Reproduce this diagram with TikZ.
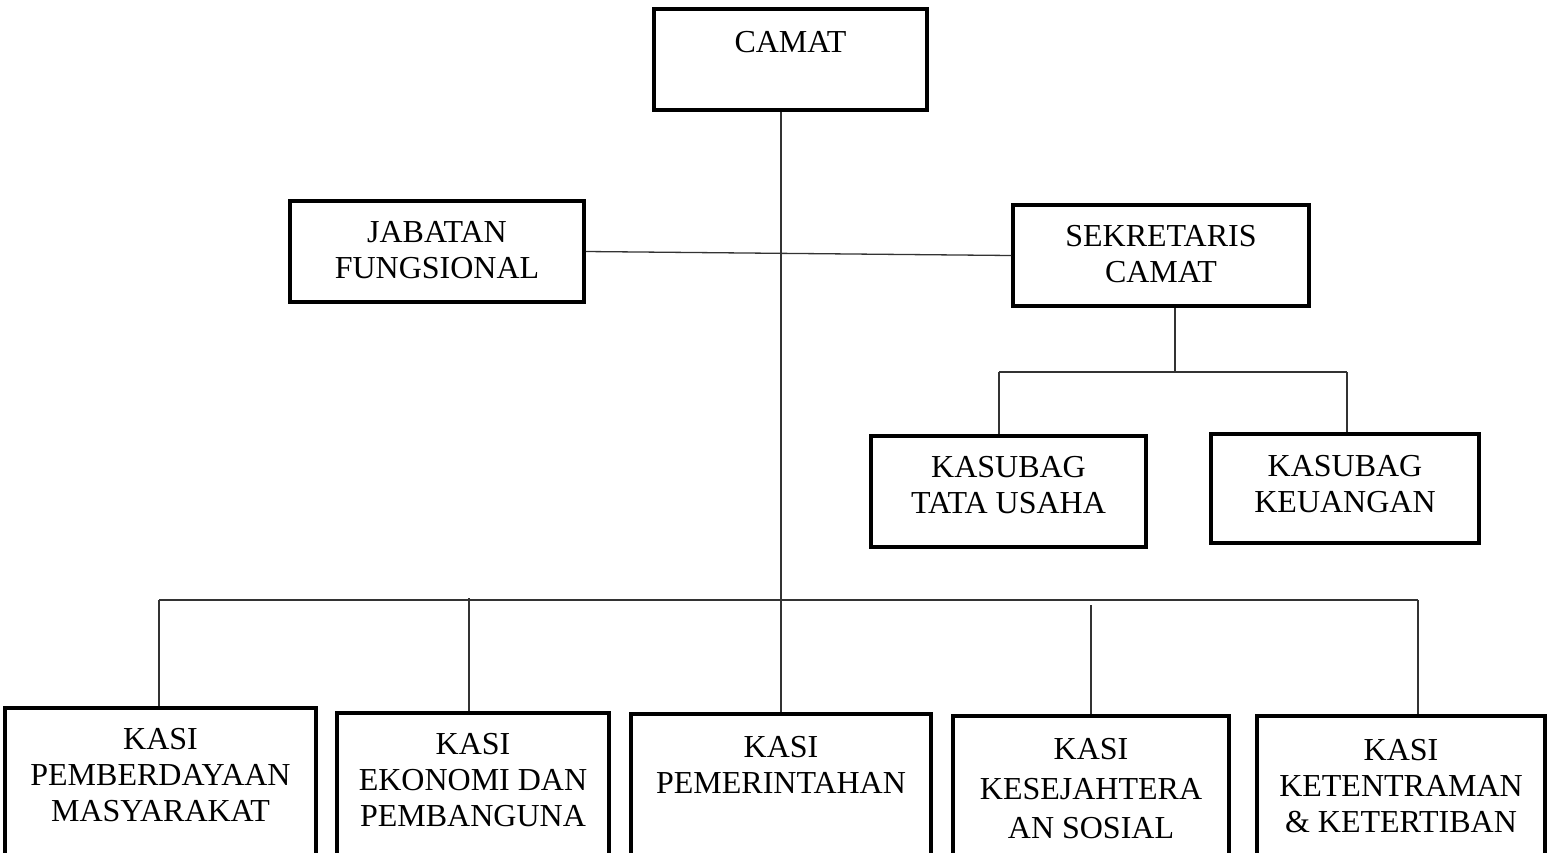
\documentclass[tikz,border=0pt]{standalone}
\usepackage{fontspec}
\setmainfont{Liberation Serif}
\begin{document}
\begin{tikzpicture}[x=1pt,y=-1pt,
  box/.style={draw=black,line width=3.5pt,rectangle,inner sep=0pt,fill=white},
  lbl/.style={align=center,inner sep=0pt,font=\fontsize{32}{36}\selectfont},
  conn/.style={draw=black!80,line width=1.3pt}]
\useasboundingbox (0,0) rectangle (1549,852);
\clip (0,0) rectangle (1549,852);
% connectors first
\coordinate (sj) at (1175,372);
\coordinate (sl) at (999,372);
\coordinate (sr) at (1347,372);
\coordinate (bl) at (159,600);
\coordinate (br) at (1418,600);
\coordinate (b2) at (469,598);
\coordinate (b4) at (1091,605);
% boxes
\node[box,minimum width=273pt,minimum height=101pt] (camat) at (790.5,59.5) {};
\node[box,minimum width=294pt,minimum height=101pt] (jab) at (437,251.5) {};
\node[box,minimum width=296pt,minimum height=101pt] (sek) at (1161,255.5) {};
\node[box,minimum width=275pt,minimum height=111pt] (tu) at (1008.5,491.5) {};
\node[box,minimum width=268pt,minimum height=109pt] (keu) at (1345,488.5) {};
\node[box,minimum width=311pt,minimum height=172pt] (k1) at (160.5,794) {};
\node[box,minimum width=272pt,minimum height=167pt] (k2) at (473,796.5) {};
\node[box,minimum width=300pt,minimum height=166pt] (k3) at (781,797) {};
\node[box,minimum width=276pt,minimum height=164pt] (k4) at (1091,798) {};
\node[box,minimum width=288pt,minimum height=164pt] (k5) at (1401,798) {};
% texts
\node[lbl] (tcamat) at (790.5,42) {CAMAT};
\node[lbl] (tjab) at (437,250) {JABATAN\\FUNGSIONAL};
\node[lbl] (tsek) at (1161,254.5) {SEKRETARIS\\CAMAT};
\node[lbl] (ttu) at (1008.5,485) {KASUBAG\\TATA USAHA};
\node[lbl] (tkeu) at (1345,484) {KASUBAG\\KEUANGAN};
\node[lbl] (tk1) at (160.5,775) {KASI\\PEMBERDAYAAN\\MASYARAKAT};
\node[lbl] (tk2) at (473,780) {KASI\\EKONOMI DAN\\PEMBANGUNA};
\node[lbl] (tk3) at (781,765) {KASI\\PEMERINTAHAN};
\node[lbl,font=\fontsize{32}{39.5}\selectfont] (tk4) at (1091,789) {KASI\\KESEJAHTERA\\AN SOSIAL};
\node[lbl] (tk5) at (1401,786) {KASI\\KETENTRAMAN\\\& KETERTIBAN};
% connectors
\draw[conn] (camat.south -| k3.north) -- (k3.north);
\draw[conn] (jab.east) -- (sek.west);
\draw[conn] (sek.south -| sj) -- (sj);
\draw[conn] (sl) -- (sr);
\draw[conn] (sl) -- (sl |- tu.north);
\draw[conn] (sr) -- (sr |- keu.north);
\draw[conn] (bl) -- (br);
\draw[conn] (bl) -- (bl |- k1.north);
\draw[conn] (b2) -- (b2 |- k2.north);
\draw[conn] (b4) -- (b4 |- k4.north);
\draw[conn] (br) -- (br |- k5.north);
\end{tikzpicture}
\end{document}
